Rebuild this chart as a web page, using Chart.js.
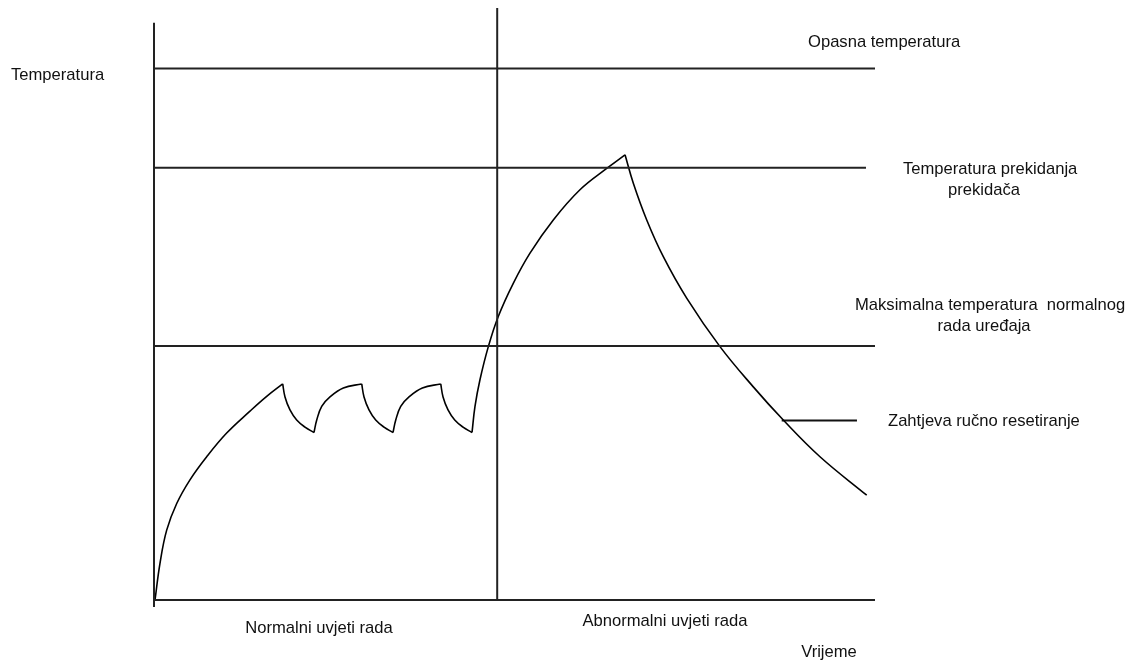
<!DOCTYPE html>
<html>
<head>
<meta charset="utf-8">
<script src="https://cdn.jsdelivr.net/npm/chart.js@4/dist/chart.umd.min.js"></script>
<style>
  html, body { margin: 0; padding: 0; background: #ffffff; }
  #wrap { width: 1133px; height: 662px; position: relative; }
</style>
</head>
<body>
<div id="wrap"><canvas id="c" width="1133" height="662"></canvas></div>
<script>
// ---- data (time on x: 0..100, temperature on y: 0..100) ----
const levelValues = [89.8, 73.0, 42.9];           // Opasna, prekidanja, maksimalna
const levelEnds   = [100, 98.75, 100];
const dividerX    = 47.6;                           // normal / abnormal boundary

const rise1X = [0.14, 0.83, 1.76, 3.15, 4.99, 7.31, 10.08, 13.31, 15.63, 17.85];
const rise1Y = [0, 6.2, 11.8, 16.3, 20.3, 24.2, 28.2, 31.9, 34.4, 36.5];

const drop1X = [17.85, 18.17, 18.86, 19.79, 20.94, 22.19];
const drop1Y = [36.5, 34.3, 32.1, 30.4, 29.2, 28.3];
const rise2X = [22.19, 22.57, 23.26, 24.41, 26.26, 28.81];
const rise2Y = [28.3, 30.4, 32.7, 34.3, 35.8, 36.5];

const drop2X = [28.81, 29.13, 29.82, 30.75, 31.90, 33.15];
const drop2Y = [36.5, 34.3, 32.1, 30.4, 29.2, 28.3];
const rise3X = [33.15, 33.53, 34.22, 35.37, 37.22, 39.77];
const rise3Y = [28.3, 30.4, 32.7, 34.3, 35.8, 36.5];

const drop3X = [39.77, 40.09, 40.78, 41.71, 42.86, 44.11];
const drop3Y = [36.5, 34.3, 32.1, 30.4, 29.2, 28.3];

const bigRiseX = [44.11, 44.52, 45.21, 46.37, 47.75, 49.83, 52.15, 55.38, 59.08, 62.79, 65.33];
const bigRiseY = [28.3, 32.7, 37.2, 42.8, 47.9, 53.5, 58.6, 64.2, 69.3, 72.9, 75.2];

const decayX = [65.33, 66.48, 68.34, 70.64, 73.88, 78.50, 83.12, 87.28, 92.37, 98.85];
const decayY = [75.2, 70.4, 64.2, 58.0, 51.0, 42.8, 36.0, 30.4, 24.2, 17.7];

const pointerX = [87.06, 97.5];   // "Zahtjeva ručno resetiranje" leader line
const pointerY = [30.3, 30.3];

const yAxisTop = 97.5, yAxisBottom = -1.2;

// ---- build datasets ----
const pts = (xs, ys) => xs.map((x, i) => ({ x: x, y: ys[i] }));
const straight = (data, color, width) => ({
  data, borderColor: color, borderWidth: width, pointRadius: 0, showLine: true,
  tension: 0, clip: false, fill: false
});
const curve = (data) => ({
  data, borderColor: '#000', borderWidth: 1.6, pointRadius: 0, showLine: true,
  tension: 0.4, clip: false, fill: false
});

const datasets = [];
// axes
datasets.push(straight([{x: 0, y: yAxisBottom}, {x: 0, y: yAxisTop}], '#222', 2));
datasets.push(straight([{x: 0, y: 0}, {x: 100, y: 0}], '#222', 2));
datasets.push(straight([{x: dividerX, y: 0}, {x: dividerX, y: 100}], '#222', 2));
levelValues.forEach((v, i) => datasets.push(straight([{x: 0, y: v}, {x: levelEnds[i], y: v}], '#222', 2)));
// temperature curve
[[rise1X, rise1Y], [drop1X, drop1Y], [rise2X, rise2Y], [drop2X, drop2Y], [rise3X, rise3Y],
 [drop3X, drop3Y], [bigRiseX, bigRiseY], [decayX, decayY]].forEach(([xs, ys]) => datasets.push(curve(pts(xs, ys))));
datasets.push(straight(pts(pointerX, pointerY), '#111', 2));

// ---- labels ----
const labelsPlugin = {
  id: 'labels',
  afterDraw(chart) {
    const ctx = chart.ctx;
    ctx.save();
    ctx.fillStyle = '#111';
    ctx.font = '16.6px "Liberation Sans", Arial, Helvetica, sans-serif';
    ctx.textBaseline = 'middle';
    const t = (s, x, y, align) => { ctx.textAlign = align; ctx.fillText(s, x, y); };
    t('Temperatura', 11, 75, 'left');
    t('Opasna temperatura', 808, 42, 'left');
    t('Temperatura prekidanja', 903, 169, 'left');
    t('prekidača', 984, 190, 'center');
    t('Maksimalna temperatura  normalnog', 855, 305, 'left');
    t('rada uređaja', 984, 326, 'center');
    t('Zahtjeva ručno resetiranje', 888, 421, 'left');
    t('Normalni uvjeti rada', 319, 628, 'center');
    t('Abnormalni uvjeti rada', 665, 621, 'center');
    t('Vrijeme', 829, 652, 'center');
    ctx.restore();
  }
};

new Chart(document.getElementById('c'), {
  type: 'scatter',
  data: { datasets },
  options: {
    responsive: false,
    animation: false,
    events: [],
    layout: { padding: { left: 154, right: 258, top: 8, bottom: 62 } },
    plugins: { legend: { display: false }, tooltip: { enabled: false } },
    scales: {
      x: { type: 'linear', min: 0, max: 100, display: false },
      y: { type: 'linear', min: 0, max: 100, display: false }
    }
  },
  plugins: [labelsPlugin]
});
</script>
</body>
</html>
